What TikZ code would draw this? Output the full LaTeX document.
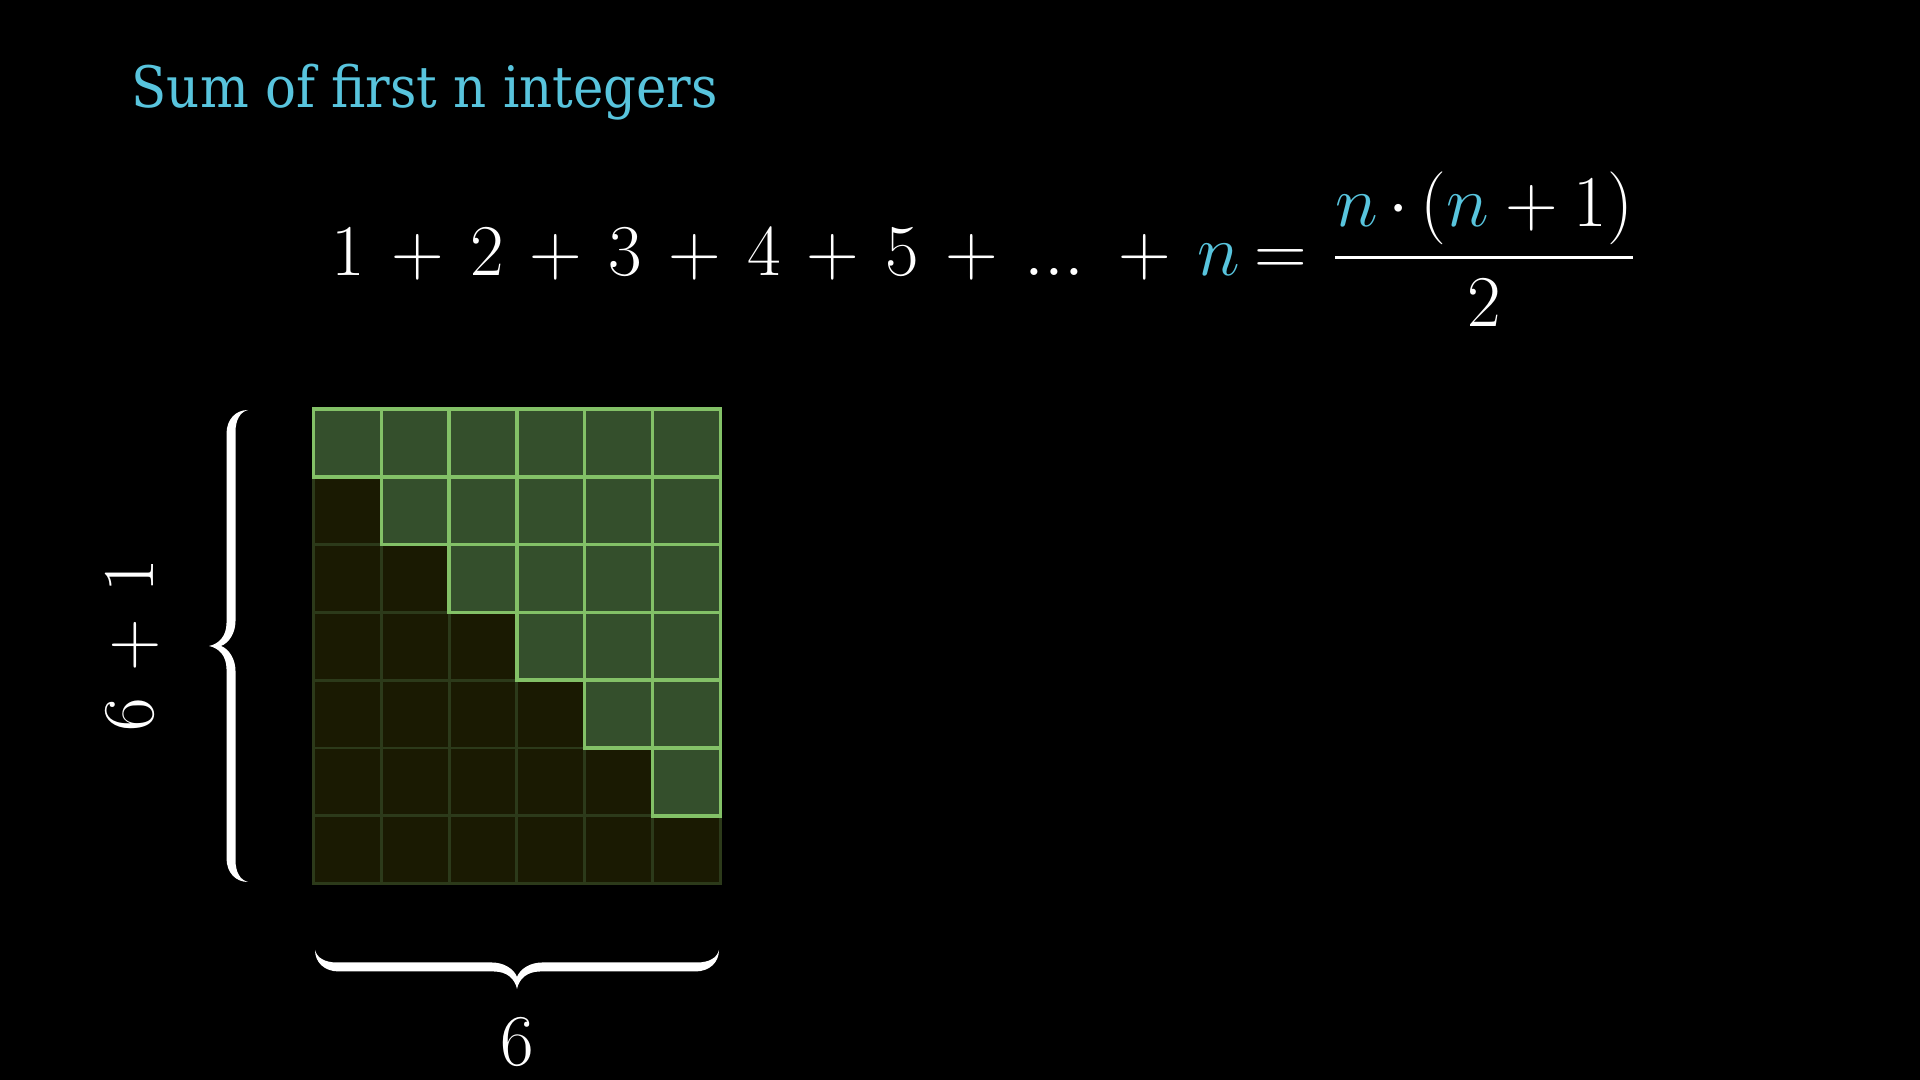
\documentclass[tikz,border=0pt]{standalone}
\usepackage{amsmath, amssymb}
\usepackage{xcolor}
\usepackage{fontspec}
\usepackage{tikz}
\usetikzlibrary{positioning,calc}

\newfontfamily\titlefont{DejaVu Serif Condensed}
\definecolor{eqblue}{HTML}{58C4DD}
\definecolor{cellfill}{HTML}{344F2C}
\definecolor{cellline}{HTML}{83C167}
\definecolor{celldark}{HTML}{1A1A02}
\definecolor{darkline}{HTML}{2C3A1A}
\newcommand{\pl}{\mkern2.5mu+\mkern2.5mu}
\newcommand{\nn}{\textcolor{eqblue}{n}}

\tikzset{
  tbrace/.pic={
    \fill[white] (0,0) .. controls (-12,0) and (-21.5,9) .. (-21.5,24)
      -- (-21.5,#1/2-23) .. controls (-21.5,#1/2-10) and (-29,#1/2-2) .. (-39,#1/2)
      .. controls (-29,#1/2+2) and (-21.5,#1/2+10) .. (-21.5,#1/2+23)
      -- (-21.5,#1-24) .. controls (-21.5,#1-9) and (-12,#1) .. (0,#1)
      .. controls (-8,#1-2) and (-12.5,#1-10) .. (-12.5,#1-22)
      -- (-12.5,#1/2+25) .. controls (-12.5,#1/2+13) and (-19,#1/2+3) .. (-27,#1/2)
      .. controls (-19,#1/2-3) and (-12.5,#1/2-13) .. (-12.5,#1/2-25)
      -- (-12.5,22) .. controls (-12.5,10) and (-8,2) .. (0,0) -- cycle;
  }
}

\begin{document}
\begin{tikzpicture}[x=0.01cm, y=-0.01cm,
  cellon/.style={fill=cellfill, draw=cellline, line width=1pt},
  celloff/.style={fill=celldark, draw=darkline, line width=0.8pt},
  mathtxt/.style={text=white, inner sep=0pt, font=\fontsize{19.6}{24}\selectfont}]
\useasboundingbox (0,0) rectangle (1920,1080);
\fill[black] (0,0) rectangle (1920,1080);

\node[anchor=base west, inner sep=0pt, text=eqblue, font=\titlefont\fontsize{16.25}{19}\selectfont] (title) at (131,108) {Sum of first n integers};
\node[mathtxt, anchor=base west] (sum) at (331,276)
  {$1\pl 2\pl 3\pl 4\pl 5\pl {...}\mkern2mu\pl \nn\mkern-1.5mu = \mkern1mu\displaystyle\frac{\nn\mkern-1.5mu\cdot\mkern-1mu(\nn+1)}{2}$};

\foreach \r in {0,...,6}
  \foreach \c in {0,...,5}
    \draw[celloff] (313.5+\c*67.8,409+\r*67.8) rectangle ++(67.8,67.8);
\foreach \r in {0,...,5}
  \foreach \c in {\r,...,5}
    \draw[cellon] (313.5+\c*67.8,409+\r*67.8) rectangle ++(67.8,67.8);

\pic (hbrace) at (248,410) {tbrace=472};
\pic[rotate=90] (wbrace) at (315,950) {tbrace=404};
\node[mathtxt, anchor=base, rotate=90] (hlab) at (153,645) {$6\pl 1$};
\node[mathtxt, anchor=base] (wlab) at (517,1066) {$6$};
\end{tikzpicture}
\end{document}
